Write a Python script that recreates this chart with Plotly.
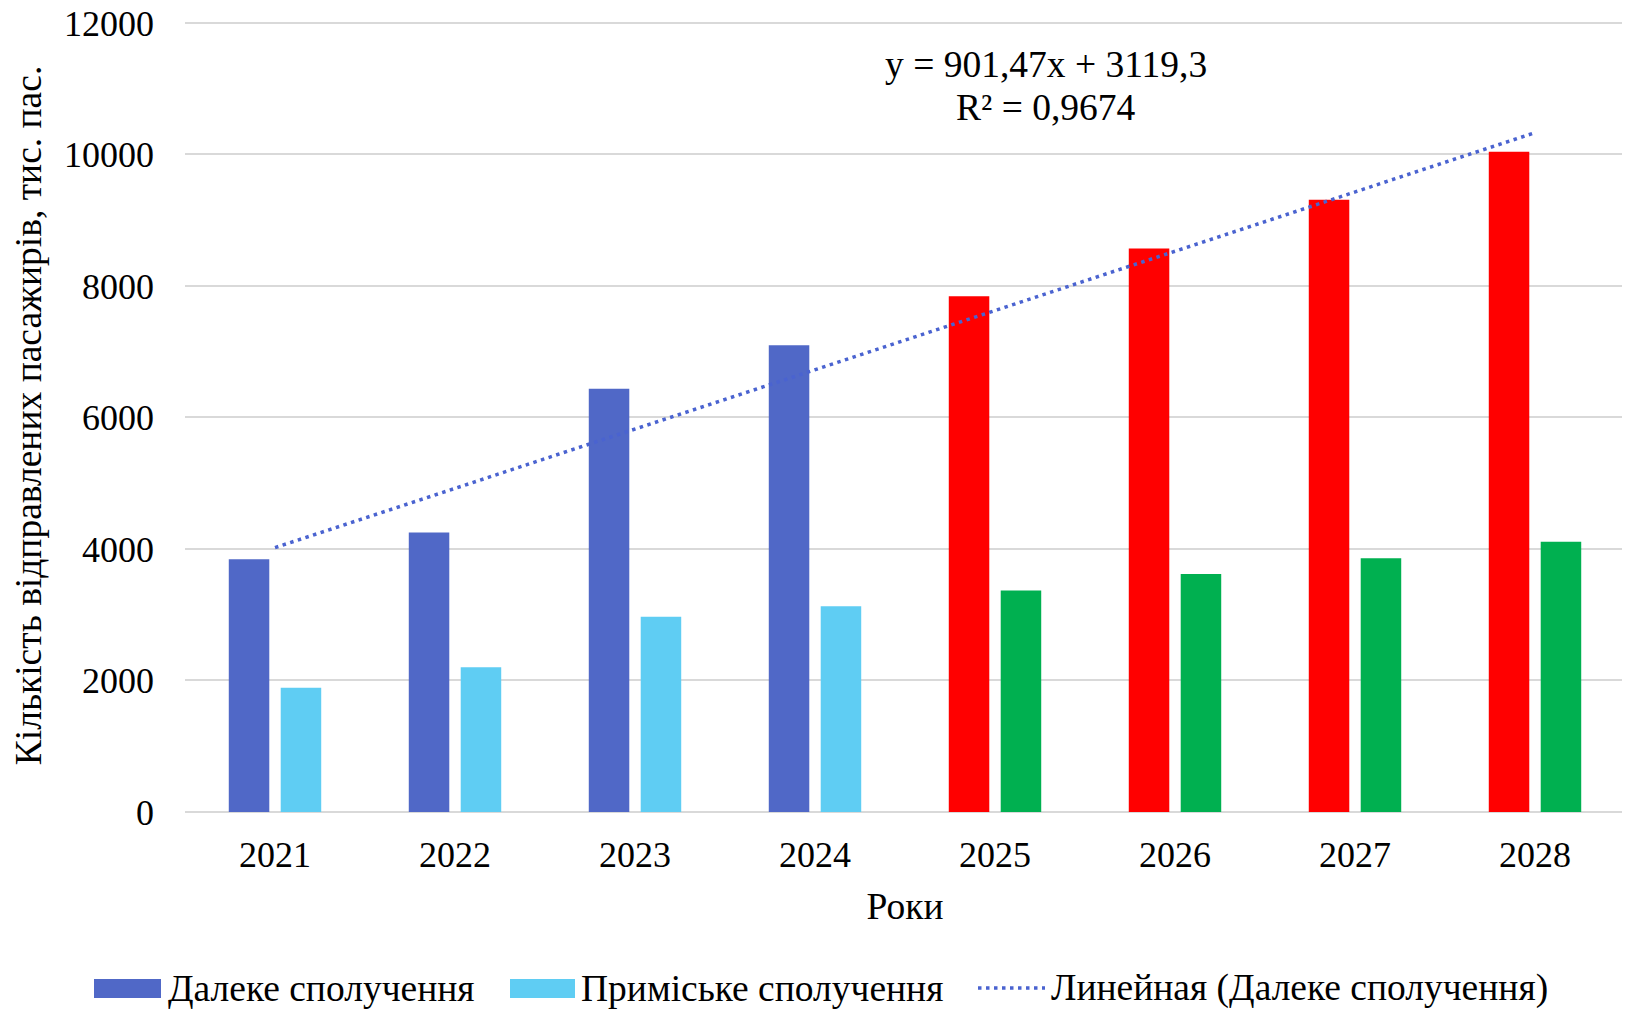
import plotly.graph_objects as go

# ---- data ----
years = ["2021", "2022", "2023", "2024", "2025", "2026", "2027", "2028"]
long_distance = [3845, 4250, 6435, 7100, 7845, 8570, 9310, 10040]
suburban = [1890, 2200, 2970, 3130, 3370, 3620, 3860, 4110]
long_colors = ["#5068C7"] * 4 + ["#FF0000"] * 4
sub_colors = ["#5FCDF3"] * 4 + ["#00B050"] * 4
trend_slope = 901.47
trend_intercept = 3119.3
trend_y = [trend_slope * (i + 1) + trend_intercept for i in range(len(years))]
y_ticks = [0, 2000, 4000, 6000, 8000, 10000, 12000]
y_ticktext = ["0", "2000", "4000", "6000", "8000", "10000", "12000"]

name_long = "Далеке сполучення"
name_sub = "Приміське сполучення"
name_trend = "Линейная (Далеке сполучення)"
eq_line1 = "y = 901,47x + 3119,3"
eq_line2 = "R² = 0,9674"

FONT = "Liberation Serif"
FS_TICK = 36
FS = 37.5
OFF = 8  # page body margin offset
W, H = 1630 - OFF, 1010 - OFF
L, R, T, B = 185 - OFF, 5, 19 - OFF, 198

fig = go.Figure()
fig.add_trace(go.Bar(x=years, y=long_distance, name=name_long,
                     marker=dict(color=long_colors, line=dict(width=0))))
fig.add_trace(go.Bar(x=years, y=suburban, name=name_sub,
                     marker=dict(color=sub_colors, line=dict(width=0))))
fig.add_trace(go.Scatter(x=years, y=trend_y, mode="lines", name=name_trend,
                         line=dict(color="#4A63D0", width=3.5, dash="3.5px,4.5px")))

pw, ph = W - L - R, H - T - B


def px(xp):
    return (xp - OFF - L) / pw


def py(yp):
    return (H - B - (yp - OFF)) / ph


shapes = []
annotations = []
tickfont = dict(family=FONT, size=FS_TICK, color="#000")
txtfont = dict(family=FONT, size=FS, color="#000")
legend_y = 988
shapes.append(dict(type="rect", xref="paper", yref="paper",
                   x0=px(94), x1=px(161), y0=py(998), y1=py(979),
                   fillcolor="#5068C7", line=dict(width=0)))
annotations.append(dict(xref="paper", yref="paper", x=px(166), y=py(legend_y),
                        xanchor="left", yanchor="middle", text=name_long,
                        showarrow=False, font=txtfont))
shapes.append(dict(type="rect", xref="paper", yref="paper",
                   x0=px(510), x1=px(575), y0=py(998), y1=py(979),
                   fillcolor="#5FCDF3", line=dict(width=0)))
annotations.append(dict(xref="paper", yref="paper", x=px(579), y=py(legend_y),
                        xanchor="left", yanchor="middle", text=name_sub,
                        showarrow=False, font=txtfont))
shapes.append(dict(type="line", xref="paper", yref="paper",
                   x0=px(978), x1=px(1045), y0=py(988), y1=py(988),
                   line=dict(color="#4A63D0", width=3.5, dash="3.5px,4.5px")))
annotations.append(dict(xref="paper", yref="paper", x=px(1049), y=py(legend_y),
                        xanchor="left", yanchor="middle", text=name_trend,
                        showarrow=False, font=txtfont))
annotations.append(dict(xref="paper", yref="paper", x=px(1046), y=py(65),
                        xanchor="center", yanchor="middle", text=eq_line1,
                        showarrow=False, font=txtfont))
annotations.append(dict(xref="paper", yref="paper", x=px(1046), y=py(107),
                        xanchor="center", yanchor="middle", text=eq_line2,
                        showarrow=False, font=txtfont))

fig.update_layout(
    width=W, height=H,
    margin=dict(l=L, r=R, t=T, b=B, pad=0, autoexpand=False),
    paper_bgcolor="white", plot_bgcolor="white",
    font=txtfont,
    barmode="group", bargap=0.423, bargroupgap=0.22,
    showlegend=False,
    shapes=shapes, annotations=annotations,
    xaxis=dict(type="category", showgrid=False, showline=False, zeroline=False,
               automargin=False,
               ticks="", ticklabelstandoff=18, tickfont=tickfont,
               title=dict(text="Роки", standoff=18, font=txtfont)),
    yaxis=dict(range=[0, 12060], tickvals=y_ticks, ticktext=y_ticktext, showgrid=True,
               gridcolor="#D9D9D9", gridwidth=2, automargin=False,
               zeroline=True, zerolinecolor="#D9D9D9", zerolinewidth=2,
               showline=False, ticks="", ticklabelstandoff=30, tickfont=tickfont,
               ticklabeloverflow="allow",
               title=dict(text="Кількість відправлених пасажирів, тис. пас.", standoff=20,
                          font=txtfont)),
)

fig.write_html("out.html")
